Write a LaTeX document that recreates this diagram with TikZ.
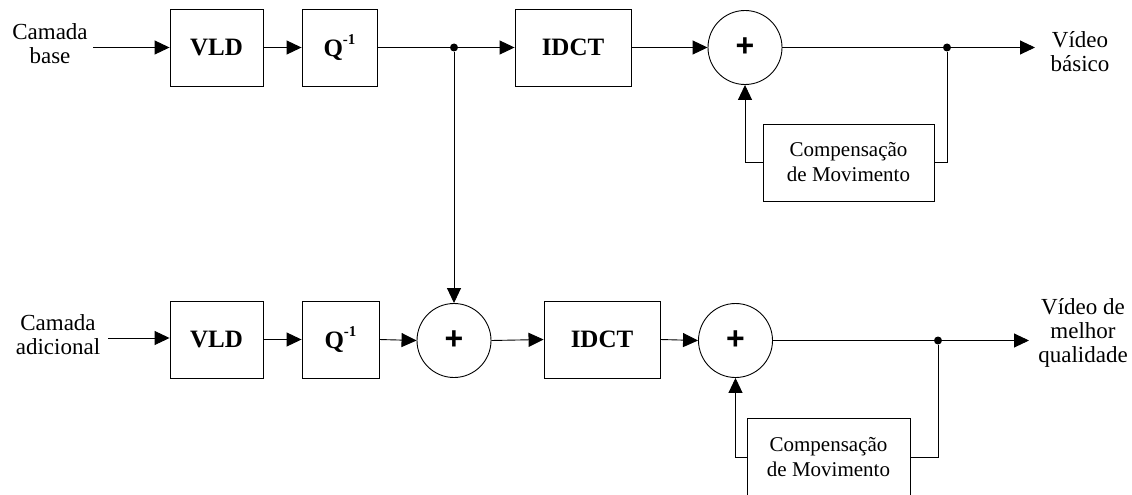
\documentclass[tikz,border=0pt]{standalone}
\usepackage{fontspec}
\setmainfont{Liberation Serif}
\newfontfamily\plusfont{Liberation Sans}
\usetikzlibrary{arrows.meta}
\tikzset{
  blk/.style={draw, line width=0.9pt, minimum height=77pt, inner sep=0pt,
    font=\fontsize{25}{25}\selectfont\bfseries},
  sumnode/.style={draw, line width=0.9pt, circle, minimum size=74pt, inner sep=0pt,
    font=\plusfont\fontsize{32}{32}\selectfont\bfseries},
  mcbox/.style={draw, line width=0.9pt, minimum height=77pt, inner sep=0pt,
    align=center, font=\fontsize{21}{25}\selectfont},
  lbl/.style={align=center, inner sep=0pt, font=\fontsize{23}{24}\selectfont},
  jdot/.style={circle, fill, minimum size=8pt, inner sep=0pt},
  wire/.style={line width=0.9pt},
  arr/.style={line width=0.9pt, -{Triangle[length=15pt,width=14pt]}},
}
\newcommand{\qinv}{Q\raisebox{0.5em}{\fontsize{15}{15}\selectfont\bfseries -1}}
\begin{document}
\begin{tikzpicture}[x=1pt,y=-1pt]
\useasboundingbox (0,0) rectangle (1132,495);

% base layer decoder
\node[lbl] (inb) at (50,44) {Camada\\base};
\node[blk, minimum width=93pt] (vld1) at (216.5,47.5) {VLD};
\node[blk, minimum width=75pt] (q1) at (339.5,47.5) {\qinv};
\node[jdot] (d1) at (454,47.5) {};
\node[blk, minimum width=116pt] (idct1) at (573,47.5) {IDCT};
\node[sumnode] (s1) at (745,47.5) {+};
\node[jdot] (d2) at (947,47.5) {};
\node[lbl] (outb) at (1080,52) {Vídeo\\básico};
\node[mcbox, minimum width=171pt] (mc1) at (848.5,162.5) {Compensação\\de Movimento};
\coordinate (e1) at (1035,47.5);
\coordinate (i1) at (93,47.5);

\draw[arr] (i1) -- (vld1.west);
\draw[arr] (vld1.east) -- (q1.west);
\draw[wire] (q1.east) -- (d1);
\draw[arr] (d1) -- (idct1.west);
\draw[arr] (idct1.east) -- (s1.west);
\draw[wire] (s1.east) -- (d2);
\draw[arr] (d2) -- (e1);
\draw[wire] (mc1.east) -| (d2);
\draw[arr] (mc1.west) -| (s1.south);

% enhancement layer decoder
\node[lbl] (ina) at (58,335) {Camada\\adicional};
\node[blk, minimum width=93pt] (vld2) at (216.5,339.5) {VLD};
\node[blk, minimum width=77pt] (q2) at (340.5,339.5) {\qinv};
\node[sumnode] (s2) at (454,340.5) {+};
\node[blk, minimum width=116pt] (idct2) at (602,339.5) {IDCT};
\node[sumnode] (s3) at (735.5,340.5) {+};
\node[jdot] (d3) at (938,340.5) {};
\node[lbl] (outa) at (1083,333) {Vídeo de\\melhor\\qualidade};
\node[mcbox, minimum width=163pt] (mc2) at (828.5,457) {Compensação\\de Movimento};
\coordinate (e2) at (1029,340.5);
\coordinate (i2) at (108,338);

\draw[arr] (i2) -- (vld2.west |- i2);
\draw[arr] (vld2.east) -- (q2.west);
\draw[arr] (q2.east) -- (s2.west);
\draw[arr] (d1) -- (s2.north);
\draw[arr] (s2.east) -- (idct2.west);
\draw[arr] (idct2.east) -- (s3.west);
\draw[wire] (s3.east) -- (d3);
\draw[arr] (d3) -- (e2);
\draw[wire] (mc2.east) -| (d3);
\draw[arr] (mc2.west) -| (s3.south);
\end{tikzpicture}
\end{document}
